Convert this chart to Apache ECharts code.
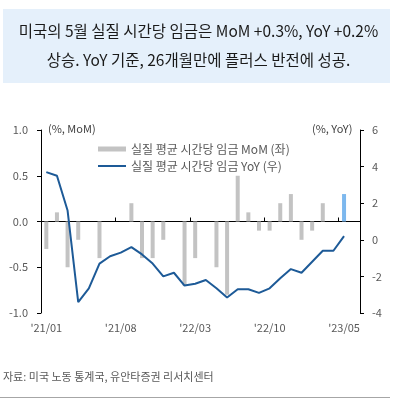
<!DOCTYPE html>
<html>
<head>
<meta charset="utf-8">
<script src="https://cdn.jsdelivr.net/npm/echarts@6/dist/echarts.min.js"></script>
<style>
  html, body { margin: 0; padding: 0; background: #fff; }
  #main { width: 397px; height: 404px; }
</style>
</head>
<body>
<div id="main"></div>
<script>
// 2021/01 ~ 2023/06 (마지막 칸은 비어 있음)
var months = [
  "'21/01", "'21/02", "'21/03", "'21/04", "'21/05", "'21/06", "'21/07", "'21/08", "'21/09", "'21/10",
  "'21/11", "'21/12", "'22/01", "'22/02", "'22/03", "'22/04", "'22/05", "'22/06", "'22/07", "'22/08",
  "'22/09", "'22/10", "'22/11", "'22/12", "'23/01", "'23/02", "'23/03", "'23/04", "'23/05", "'23/06"
];
// 실질 평균 시간당 임금 MoM (%), 좌축
var momValues = [
  -0.3, 0.1, -0.5, -0.2, 0, -0.4, 0, 0, 0.2, -0.4,
  -0.4, -0.2, 0, -0.7, -0.4, 0, -0.5, -0.8, 0.5, 0.1,
  -0.1, -0.1, 0.2, 0.3, -0.2, -0.1, 0.2, 0, 0.3, null
];
// 실질 평균 시간당 임금 YoY (%), 우축
var yoyValues = [
  3.7, 3.5, 1.6, -3.4, -2.65, -1.3, -0.9, -0.7, -0.4, -0.8,
  -1.3, -2.0, -1.8, -2.5, -2.4, -2.2, -2.65, -3.15, -2.7, -2.7,
  -2.9, -2.65, -2.1, -1.6, -1.8, -1.2, -0.6, -0.6, 0.2, null
];
var leftTicks = { min: -1, max: 1, interval: 0.5 };
var rightTicks = { min: -4, max: 6, interval: 2 };
var highlightIndex = 28;

var FONT = "'Noto Sans CJK KR', 'Noto Sans', sans-serif";
var myChart = echarts.init(document.getElementById("main"));

var barData = momValues.map(function (v, i) {
  if (i === highlightIndex) {
    return { value: v, itemStyle: { color: "#7db8ee" } };
  }
  return v;
});

var option = {
  animation: false,
  textStyle: { fontFamily: FONT },
  grid: { left: 41, right: 37, top: 130, bottom: 91 },
  legend: {
    orient: "vertical",
    left: 92,
    top: 138,
    itemWidth: 28,
    itemHeight: 5,
    itemGap: 5,
    textStyle: { color: "#595959", fontSize: 12, fontFamily: FONT },
    data: [
      { name: "실질 평균 시간당 임금 MoM (좌)", icon: "rect" },
      { name: "실질 평균 시간당 임금 YoY (우)", itemStyle: { opacity: 0 } }
    ]
  },
  xAxis: [
    {
      type: "category",
      data: months,
      position: "bottom",
      axisLine: { show: false, onZero: false },
      axisTick: { show: false },
      axisLabel: { interval: 6, color: "#595959", fontSize: 11, margin: 9 }
    },
    {
      type: "category",
      data: months,
      position: "bottom",
      axisLine: { show: true, onZero: true, onZeroAxisIndex: 0, lineStyle: { color: "#000", width: 1 } },
      axisTick: { show: true, inside: true, interval: 6, length: 4, lineStyle: { color: "#000" } },
      axisLabel: { show: false }
    }
  ],
  yAxis: [
    {
      type: "value",
      min: leftTicks.min,
      max: leftTicks.max,
      interval: leftTicks.interval,
      axisLine: { show: true, lineStyle: { color: "#000" } },
      axisTick: { show: true, length: 4, lineStyle: { color: "#000" } },
      splitLine: { show: false },
      axisLabel: {
        color: "#595959",
        fontSize: 11,
        margin: 13,
        formatter: function (v) { return v.toFixed(1); }
      }
    },
    {
      type: "value",
      position: "right",
      min: rightTicks.min,
      max: rightTicks.max,
      interval: rightTicks.interval,
      axisLine: { show: true, lineStyle: { color: "#000" } },
      axisTick: { show: true, length: 4, lineStyle: { color: "#000" } },
      splitLine: { show: false },
      axisLabel: { color: "#595959", fontSize: 11, margin: 12 }
    }
  ],
  series: [
    {
      name: "실질 평균 시간당 임금 MoM (좌)",
      type: "bar",
      xAxisIndex: 0,
      yAxisIndex: 0,
      barWidth: 4,
      itemStyle: { color: "#c3c3c3" },
      data: barData
    },
    {
      name: "실질 평균 시간당 임금 YoY (우)",
      type: "line",
      xAxisIndex: 0,
      yAxisIndex: 1,
      symbol: "none",
      lineStyle: { color: "#1d5a97", width: 2 },
      itemStyle: { color: "#1d5a97" },
      data: yoyValues
    }
  ],
  graphic: [
    {
      type: "rect",
      left: 3,
      top: 9,
      shape: { width: 387, height: 74 },
      style: { fill: "#e5f0fb" }
    },
    {
      type: "text",
      left: "center",
      top: 23,
      style: {
        text: "미국의 5월 실질 시간당 임금은 MoM +0.3%, YoY +0.2%",
        fill: "#1a1a1a",
        font: "15.5px " + FONT
      }
    },
    {
      type: "text",
      left: "center",
      top: 52,
      style: {
        text: "상승. YoY 기준, 26개월만에 플러스 반전에 성공.",
        fill: "#1a1a1a",
        font: "15.5px " + FONT
      }
    },
    {
      type: "text",
      left: 48,
      top: 123,
      style: { text: "(%, MoM)", fill: "#404040", font: "11px " + FONT }
    },
    {
      type: "text",
      left: 312,
      top: 123,
      style: { text: "(%, YoY)", fill: "#404040", font: "11px " + FONT }
    },
    {
      type: "text",
      left: 3,
      top: 371,
      style: { text: "자료: 미국 노동 통계국, 유안타증권 리서치센터", fill: "#595959", font: "11px " + FONT }
    },
    {
      type: "rect",
      left: 0,
      top: 397,
      shape: { width: 390, height: 1 },
      style: { fill: "#a6a6a6" }
    }
  ]
};

myChart.setOption(option);
</script>
</body>
</html>
